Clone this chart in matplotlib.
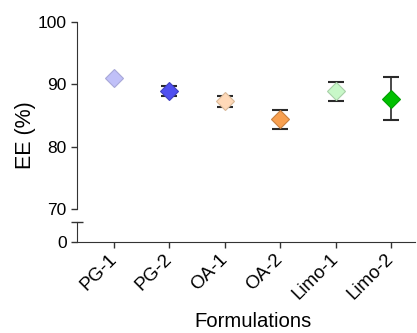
import matplotlib
matplotlib.use("Agg")
import matplotlib.pyplot as plt

categories = ["PG-1", "PG-2", "OA-1", "OA-2", "Limo-1", "Limo-2"]
ee_mean = [91.0, 88.9, 87.3, 84.4, 88.9, 87.7]
ee_err = [0.0, 0.8, 0.9, 1.5, 1.5, 3.4]
face_colors = ["#c0c0f8", "#5050f0", "#ffd9b8", "#f8a050", "#c8f8c8", "#00c000"]
edge_colors = ["#a8a8d8", "#4040c0", "#d8b898", "#c88040", "#a8d0a8", "#00a000"]

plt.rcParams['font.family'] = ['Liberation Sans', 'DejaVu Sans']

fig = plt.figure(figsize=(4.17, 3.33), dpi=100)
ax_top = fig.add_axes([0.1847, 0.3724, 0.81, 0.5616])
ax_bot = fig.add_axes([0.1847, 0.2733, 0.81, 0.06], sharex=ax_top)

xs = list(range(len(categories)))
for i in xs:
    if ee_err[i] > 0:
        ax_top.errorbar(xs[i], ee_mean[i], yerr=ee_err[i], fmt='none',
                        ecolor='#2a2a2a', elinewidth=1.2, capsize=5.5,
                        capthick=1.5, zorder=2)
    ax_top.plot(xs[i], ee_mean[i], marker='D', markersize=9,
                markerfacecolor=face_colors[i], markeredgecolor=edge_colors[i],
                markeredgewidth=0.8, linestyle='none', zorder=3)

ax_top.set_ylim(70, 100)
ax_top.set_yticks([70, 80, 90, 100])
ax_top.set_xlim(-0.668, 5.43)
for s in ['top', 'right', 'bottom']:
    ax_top.spines[s].set_visible(False)
ax_top.tick_params(axis='x', bottom=False, labelbottom=False)
ax_top.tick_params(axis='y', labelsize=12.5, length=4, width=1, color='#333333')
ax_top.spines['left'].set_color('#333333')
ax_top.set_ylabel("EE (%)", fontsize=15.5)
ax_top.yaxis.set_label_coords(-0.12, 0.396)

ax_bot.set_ylim(0, 5)
ax_bot.set_yticks([0])
for s in ['top', 'right']:
    ax_bot.spines[s].set_visible(False)
ax_bot.spines['left'].set_color('#333333')
ax_bot.spines['bottom'].set_color('#333333')
ax_bot.tick_params(axis='y', labelsize=12.5, length=4, width=1, color='#333333')
ax_bot.set_xticks(xs)
ax_bot.set_xticklabels(categories, rotation=45, ha='right', va='center',
                       rotation_mode='anchor', fontsize=13.5)
ax_bot.tick_params(axis='x', length=4, width=1, color='#333333', pad=6.5)
ax_bot.plot([-0.668], [5], marker='_', markersize=8, color='#333333', clip_on=False, markeredgewidth=1)
ax_bot.set_xlabel("Formulations", fontsize=14.6)
ax_bot.xaxis.set_label_coords(0.52, -3.5)

fig.savefig("out.png", dpi=100)
